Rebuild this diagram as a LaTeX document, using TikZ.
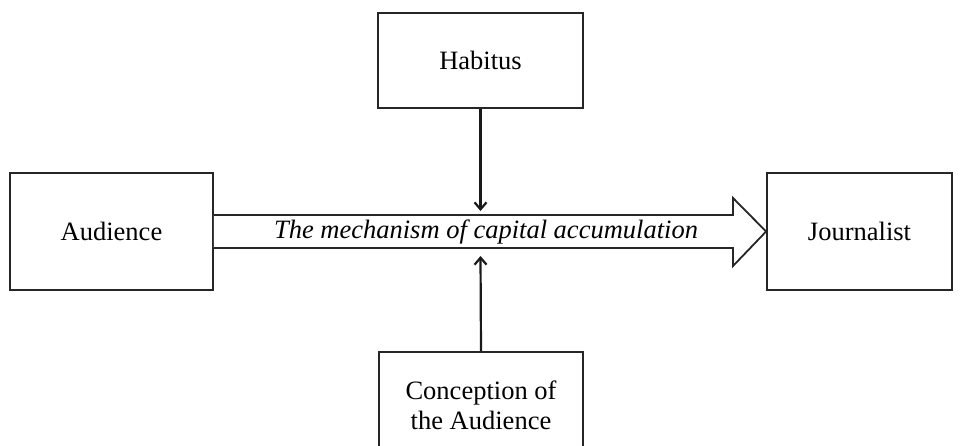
\documentclass[tikz,border=0pt]{standalone}
\usepackage{fontspec}
\setmainfont{Liberation Serif}
\usetikzlibrary{arrows.meta,calc}
\begin{document}
\begin{tikzpicture}[x=1pt,y=-1pt,
  box/.style={draw=black!85,line width=1.8pt,fill=white,rectangle,inner sep=0pt,align=center,font=\fontsize{26.5}{30}\selectfont},
  link/.style={draw=black!90,line width=2.2pt,-{Straight Barb[length=7pt,width=12pt,line width=2.2pt]}}]
\useasboundingbox (0,0) rectangle (960,445);
\clip (0,0) rectangle (960,445);
\fill[white] (0,0) rectangle (960,445);
\node[box,minimum width=205pt,minimum height=95pt] (habitus) at (480.5,60.5) {Habitus};
\node[box,minimum width=203pt,minimum height=117pt] (audience) at (111.5,231.5) {Audience};
\node[box,minimum width=185pt,minimum height=117pt] (journalist) at (859.5,231.5) {Journalist};
\node[box,minimum width=204pt,minimum height=106pt] (conception) at (481,405) {Conception of\\the Audience};
\coordinate (headtop) at (733,198);
\coordinate (headbot) at (733,266);
\draw[line width=1.8pt,draw=black!85,fill=white,line join=miter]
  ($(audience.east)+(0,-16.5)$) -- (733,215) -- (headtop) -- (journalist.west) -- (headbot) -- (733,248) -- ($(audience.east)+(0,16.5)$);
\node[font=\fontsize{26.5}{30}\selectfont\itshape,inner sep=0pt] (mech) at (486,232) {The mechanism of capital accumulation};
\coordinate (uptip) at (480.5,211);
\coordinate (lowtip) at (480.5,256);
\draw[link] (habitus.south) -- (uptip);
\draw[link] (conception.north) -- (lowtip);
\end{tikzpicture}
\end{document}
